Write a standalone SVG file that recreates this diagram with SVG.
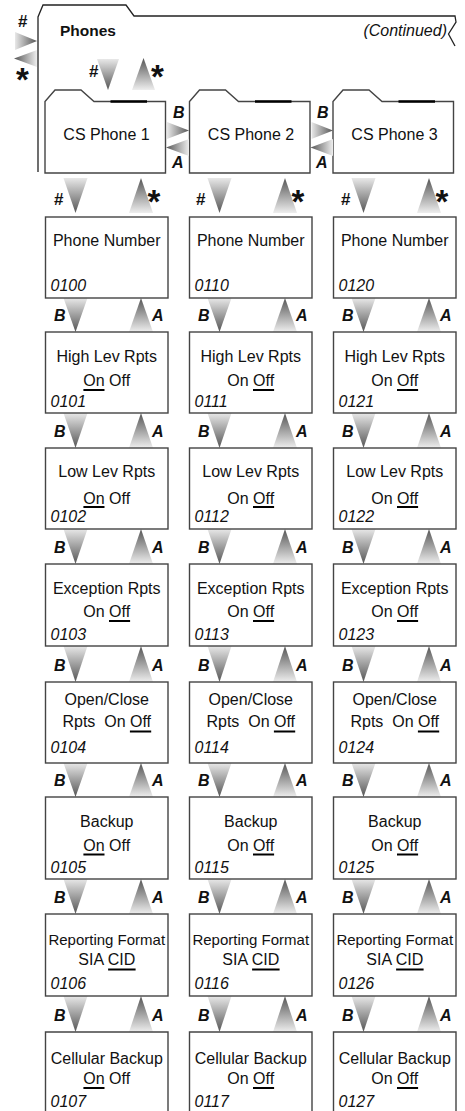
<svg xmlns="http://www.w3.org/2000/svg" width="465" height="1111" viewBox="0 0 465 1111">
<style>
.bx{fill:#fff;stroke:#444;stroke-width:1.4}
.fd{fill:none;stroke:#222;stroke-width:1.3}
.tab{stroke:#000;stroke-width:2.5}
.t{font-family:"Liberation Sans",Arial,sans-serif;font-size:16px;fill:#111;text-anchor:middle}
.id{font-family:"Liberation Sans",Arial,sans-serif;font-size:16px;fill:#111;font-style:italic}
.lb{font-family:"Liberation Sans",Arial,sans-serif;font-size:16px;font-weight:bold;font-style:italic;fill:#111}
.hs{font-family:"Liberation Sans",Arial,sans-serif;font-size:17px;font-weight:bold;fill:#111}
.st{font-family:"Liberation Sans",Arial,sans-serif;font-size:33px;font-weight:bold;fill:#111;text-anchor:middle}
.ul{stroke:#000;stroke-width:2}
.d{fill:url(#gd)}.u{fill:url(#gu)}.r{fill:url(#gr)}.l{fill:url(#gl)}
</style>
<defs>
<linearGradient id="gd" x1="0" y1="0" x2="0" y2="1"><stop offset="0" stop-color="#e8e8e8"/><stop offset="1" stop-color="#555"/></linearGradient>
<linearGradient id="gu" x1="0" y1="1" x2="0" y2="0"><stop offset="0" stop-color="#eee"/><stop offset="1" stop-color="#555"/></linearGradient>
<linearGradient id="gr" x1="0" y1="0" x2="1" y2="0"><stop offset="0" stop-color="#e8e8e8"/><stop offset="1" stop-color="#555"/></linearGradient>
<linearGradient id="gl" x1="1" y1="0" x2="0" y2="0"><stop offset="0" stop-color="#eee"/><stop offset="1" stop-color="#555"/></linearGradient>
</defs>
<rect width="465" height="1111" fill="#fff"/>

<g id="phones">
<path class="fd" d="M38,172 V17 L43,5 H126 L134,16 H455 L456,22 L448.5,34 L455,46"/>
<text class="hs" x="60" y="36" style="font-size:15.5px">Phones</text>
<text class="id" x="447" y="36" text-anchor="end">(Continued)</text>
</g>

<g id="cs1">
<path class="bx" d="M45,173 V101.5 L55,90 H81 L94,101.5 H165.5 V173 Z"/>
<path class="tab" d="M110.5,101.5 H147"/>
<text class="t" x="106.5" y="140">CS Phone 1</text>
</g>
<g id="cs2">
<path class="bx" d="M189.5,173 V101.5 L199.5,90 H225.5 L238.5,101.5 H310 V173 Z"/>
<path class="tab" d="M255,101.5 H291.5"/>
<text class="t" x="251" y="140">CS Phone 2</text>
</g>
<g id="cs3">
<path class="bx" d="M333,173 V101.5 L343,90 H369 L382,101.5 H453.5 V173 Z"/>
<path class="tab" d="M398.5,101.5 H435"/>
<text class="t" x="394.5" y="140">CS Phone 3</text>
</g>

<g id="connectors">
<text class="hs" x="18" y="27">#</text>
<polygon class="r" points="15,32 15,50 37,41"/>
<polygon class="l" points="37,50 37,67 14,58.5"/>
<text class="st" x="22.5" y="91">*</text>
<text class="hs" x="89" y="77">#</text>
<polygon class="d" points="97,59 119,59 108,90"/>
<polygon class="u" points="132,90 155,90 143.5,58"/>
<text class="st" x="157.5" y="88">*</text>
<text class="lb" x="173" y="118">B</text>
<polygon class="r" points="167,122 167,139 189,130.5"/>
<polygon class="l" points="189,139 189,156 166,147.5"/>
<text class="lb" x="172" y="168">A</text>
<text class="lb" x="317" y="118">B</text>
<polygon class="r" points="311.5,122 311.5,139 333,130.5"/>
<polygon class="l" points="333,139 333,156 310.5,147.5"/>
<text class="lb" x="316" y="168">A</text>
<text class="hs" x="54" y="205">#</text>
<polygon class="d" points="63.5,178 87.5,178 75.5,213"/>
<polygon class="u" points="129,213 153,213 141,178"/>
<text class="st" x="154" y="213">*</text>
<text class="hs" x="196" y="205">#</text>
<polygon class="d" points="207.5,178 231.5,178 219.5,213"/>
<polygon class="u" points="273,213 297,213 285,178"/>
<text class="st" x="298" y="213">*</text>
<text class="hs" x="341" y="205">#</text>
<polygon class="d" points="351.5,178 375.5,178 363.5,213"/>
<polygon class="u" points="417,213 441,213 429,178"/>
<text class="st" x="442" y="213">*</text>
<polygon class="d" points="63.5,298 87.5,298 75.5,332"/><polygon class="u" points="129,332 153,332 141,298"/>
<polygon class="d" points="207.5,298 231.5,298 219.5,332"/><polygon class="u" points="273,332 297,332 285,298"/>
<polygon class="d" points="351.5,298 375.5,298 363.5,332"/><polygon class="u" points="417,332 441,332 429,298"/>
<text class="lb" x="54" y="320.5">B</text><text class="lb" x="152" y="320.5">A</text>
<text class="lb" x="198" y="320.5">B</text><text class="lb" x="296" y="320.5">A</text>
<text class="lb" x="342" y="320.5">B</text><text class="lb" x="440" y="320.5">A</text>
<polygon class="d" points="63.5,413 87.5,413 75.5,448"/><polygon class="u" points="129,448 153,448 141,413"/>
<polygon class="d" points="207.5,413 231.5,413 219.5,448"/><polygon class="u" points="273,448 297,448 285,413"/>
<polygon class="d" points="351.5,413 375.5,413 363.5,448"/><polygon class="u" points="417,448 441,448 429,413"/>
<text class="lb" x="54" y="436.5">B</text><text class="lb" x="152" y="436.5">A</text>
<text class="lb" x="198" y="436.5">B</text><text class="lb" x="296" y="436.5">A</text>
<text class="lb" x="342" y="436.5">B</text><text class="lb" x="440" y="436.5">A</text>
<polygon class="d" points="63.5,529 87.5,529 75.5,564"/><polygon class="u" points="129,564 153,564 141,529"/>
<polygon class="d" points="207.5,529 231.5,529 219.5,564"/><polygon class="u" points="273,564 297,564 285,529"/>
<polygon class="d" points="351.5,529 375.5,529 363.5,564"/><polygon class="u" points="417,564 441,564 429,529"/>
<text class="lb" x="54" y="552.5">B</text><text class="lb" x="152" y="552.5">A</text>
<text class="lb" x="198" y="552.5">B</text><text class="lb" x="296" y="552.5">A</text>
<text class="lb" x="342" y="552.5">B</text><text class="lb" x="440" y="552.5">A</text>
<polygon class="d" points="63.5,646 87.5,646 75.5,682"/><polygon class="u" points="129,682 153,682 141,646"/>
<polygon class="d" points="207.5,646 231.5,646 219.5,682"/><polygon class="u" points="273,682 297,682 285,646"/>
<polygon class="d" points="351.5,646 375.5,646 363.5,682"/><polygon class="u" points="417,682 441,682 429,646"/>
<text class="lb" x="54" y="670.5">B</text><text class="lb" x="152" y="670.5">A</text>
<text class="lb" x="198" y="670.5">B</text><text class="lb" x="296" y="670.5">A</text>
<text class="lb" x="342" y="670.5">B</text><text class="lb" x="440" y="670.5">A</text>
<polygon class="d" points="63.5,763 87.5,763 75.5,797"/><polygon class="u" points="129,797 153,797 141,763"/>
<polygon class="d" points="207.5,763 231.5,763 219.5,797"/><polygon class="u" points="273,797 297,797 285,763"/>
<polygon class="d" points="351.5,763 375.5,763 363.5,797"/><polygon class="u" points="417,797 441,797 429,763"/>
<text class="lb" x="54" y="785.5">B</text><text class="lb" x="152" y="785.5">A</text>
<text class="lb" x="198" y="785.5">B</text><text class="lb" x="296" y="785.5">A</text>
<text class="lb" x="342" y="785.5">B</text><text class="lb" x="440" y="785.5">A</text>
<polygon class="d" points="63.5,879 87.5,879 75.5,914"/><polygon class="u" points="129,914 153,914 141,879"/>
<polygon class="d" points="207.5,879 231.5,879 219.5,914"/><polygon class="u" points="273,914 297,914 285,879"/>
<polygon class="d" points="351.5,879 375.5,879 363.5,914"/><polygon class="u" points="417,914 441,914 429,879"/>
<text class="lb" x="54" y="902.5">B</text><text class="lb" x="152" y="902.5">A</text>
<text class="lb" x="198" y="902.5">B</text><text class="lb" x="296" y="902.5">A</text>
<text class="lb" x="342" y="902.5">B</text><text class="lb" x="440" y="902.5">A</text>
<polygon class="d" points="63.5,996 87.5,996 75.5,1032"/><polygon class="u" points="129,1032 153,1032 141,996"/>
<polygon class="d" points="207.5,996 231.5,996 219.5,1032"/><polygon class="u" points="273,1032 297,1032 285,996"/>
<polygon class="d" points="351.5,996 375.5,996 363.5,1032"/><polygon class="u" points="417,1032 441,1032 429,996"/>
<text class="lb" x="54" y="1020.5">B</text><text class="lb" x="152" y="1020.5">A</text>
<text class="lb" x="198" y="1020.5">B</text><text class="lb" x="296" y="1020.5">A</text>
<text class="lb" x="342" y="1020.5">B</text><text class="lb" x="440" y="1020.5">A</text>
</g>

<g id="n0100"><rect class="bx" x="45.5" y="217" width="122.5" height="81"/><text class="t" x="106.75" y="246">Phone Number</text><text class="id" x="50.5" y="291">0100</text></g>
<g id="n0110"><rect class="bx" x="189.5" y="217" width="122.5" height="81"/><text class="t" x="250.75" y="246">Phone Number</text><text class="id" x="194.5" y="291">0110</text></g>
<g id="n0120"><rect class="bx" x="333.5" y="217" width="122.5" height="81"/><text class="t" x="394.75" y="246">Phone Number</text><text class="id" x="338.5" y="291">0120</text></g>

<g id="n0101"><rect class="bx" x="45.5" y="332" width="122.5" height="81"/><text class="t" x="106.75" y="362">High Lev Rpts</text><text class="t" x="106.75" y="386">On Off</text><path class="ul" d="M83.4,390 H104.5"/><text class="id" x="50.5" y="407">0101</text></g>
<g id="n0111"><rect class="bx" x="189.5" y="332" width="122.5" height="81"/><text class="t" x="250.75" y="362">High Lev Rpts</text><text class="t" x="250.75" y="386">On Off</text><path class="ul" d="M253,390 H274.1"/><text class="id" x="194.5" y="407">0111</text></g>
<g id="n0121"><rect class="bx" x="333.5" y="332" width="122.5" height="81"/><text class="t" x="394.75" y="362">High Lev Rpts</text><text class="t" x="394.75" y="386">On Off</text><path class="ul" d="M397,390 H418.1"/><text class="id" x="338.5" y="407">0121</text></g>

<g id="n0102"><rect class="bx" x="45.5" y="448" width="122.5" height="81"/><text class="t" x="106.75" y="477">Low Lev Rpts</text><text class="t" x="106.75" y="503.5">On Off</text><path class="ul" d="M83.4,507 H104.5"/><text class="id" x="50.5" y="522">0102</text></g>
<g id="n0112"><rect class="bx" x="189.5" y="448" width="122.5" height="81"/><text class="t" x="250.75" y="477">Low Lev Rpts</text><text class="t" x="250.75" y="503.5">On Off</text><path class="ul" d="M253,507 H274.1"/><text class="id" x="194.5" y="522">0112</text></g>
<g id="n0122"><rect class="bx" x="333.5" y="448" width="122.5" height="81"/><text class="t" x="394.75" y="477">Low Lev Rpts</text><text class="t" x="394.75" y="503.5">On Off</text><path class="ul" d="M397,507 H418.1"/><text class="id" x="338.5" y="522">0122</text></g>

<g id="n0103"><rect class="bx" x="45.5" y="564" width="122.5" height="82"/><text class="t" x="106.75" y="594">Exception Rpts</text><text class="t" x="106.75" y="617">On Off</text><path class="ul" d="M109,621 H130.1"/><text class="id" x="50.5" y="639.5">0103</text></g>
<g id="n0113"><rect class="bx" x="189.5" y="564" width="122.5" height="82"/><text class="t" x="250.75" y="594">Exception Rpts</text><text class="t" x="250.75" y="617">On Off</text><path class="ul" d="M253,621 H274.1"/><text class="id" x="194.5" y="639.5">0113</text></g>
<g id="n0123"><rect class="bx" x="333.5" y="564" width="122.5" height="82"/><text class="t" x="394.75" y="594">Exception Rpts</text><text class="t" x="394.75" y="617">On Off</text><path class="ul" d="M397,621 H418.1"/><text class="id" x="338.5" y="639.5">0123</text></g>

<g id="n0104"><rect class="bx" x="45.5" y="682" width="122.5" height="81"/><text class="t" x="106.75" y="705">Open/Close</text><text class="t" x="106.75" y="727" xml:space="preserve">Rpts  On Off</text><path class="ul" d="M129.9,731.5 H151.2"/><text class="id" x="50.5" y="753">0104</text></g>
<g id="n0114"><rect class="bx" x="189.5" y="682" width="122.5" height="81"/><text class="t" x="250.75" y="705">Open/Close</text><text class="t" x="250.75" y="727" xml:space="preserve">Rpts  On Off</text><path class="ul" d="M273.9,731.5 H295.2"/><text class="id" x="194.5" y="753">0114</text></g>
<g id="n0124"><rect class="bx" x="333.5" y="682" width="122.5" height="81"/><text class="t" x="394.75" y="705">Open/Close</text><text class="t" x="394.75" y="727" xml:space="preserve">Rpts  On Off</text><path class="ul" d="M417.9,731.5 H439.2"/><text class="id" x="338.5" y="753">0124</text></g>

<g id="n0105"><rect class="bx" x="45.5" y="797" width="122.5" height="82"/><text class="t" x="106.75" y="827">Backup</text><text class="t" x="106.75" y="850.5">On Off</text><path class="ul" d="M83.4,854.5 H104.5"/><text class="id" x="50.5" y="872.5">0105</text></g>
<g id="n0115"><rect class="bx" x="189.5" y="797" width="122.5" height="82"/><text class="t" x="250.75" y="827">Backup</text><text class="t" x="250.75" y="850.5">On Off</text><path class="ul" d="M253,854.5 H274.1"/><text class="id" x="194.5" y="872.5">0115</text></g>
<g id="n0125"><rect class="bx" x="333.5" y="797" width="122.5" height="82"/><text class="t" x="394.75" y="827">Backup</text><text class="t" x="394.75" y="850.5">On Off</text><path class="ul" d="M397,854.5 H418.1"/><text class="id" x="338.5" y="872.5">0125</text></g>

<g id="n0106"><rect class="bx" x="45.5" y="914" width="122.5" height="82"/><text class="t" x="106.75" y="945" style="font-size:15px">Reporting Format</text><text class="t" x="106.75" y="965">SIA CID</text><path class="ul" d="M108.1,969.5 H135.6"/><text class="id" x="50.5" y="989">0106</text></g>
<g id="n0116"><rect class="bx" x="189.5" y="914" width="122.5" height="82"/><text class="t" x="250.75" y="945" style="font-size:15px">Reporting Format</text><text class="t" x="250.75" y="965">SIA CID</text><path class="ul" d="M252.1,969.5 H279.6"/><text class="id" x="194.5" y="989">0116</text></g>
<g id="n0126"><rect class="bx" x="333.5" y="914" width="122.5" height="82"/><text class="t" x="394.75" y="945" style="font-size:15px">Reporting Format</text><text class="t" x="394.75" y="965">SIA CID</text><path class="ul" d="M396.1,969.5 H423.6"/><text class="id" x="338.5" y="989">0126</text></g>

<g id="n0107"><path class="bx" d="M45.5,1112 V1032 H168 V1112"/><text class="t" x="106.75" y="1063.5">Cellular Backup</text><text class="t" x="106.75" y="1084">On Off</text><path class="ul" d="M83.4,1088 H104.5"/><text class="id" x="50.5" y="1107">0107</text></g>
<g id="n0117"><path class="bx" d="M189.5,1112 V1032 H312 V1112"/><text class="t" x="250.75" y="1063.5">Cellular Backup</text><text class="t" x="250.75" y="1084">On Off</text><path class="ul" d="M253,1088 H274.1"/><text class="id" x="194.5" y="1107">0117</text></g>
<g id="n0127"><path class="bx" d="M333.5,1112 V1032 H456 V1112"/><text class="t" x="394.75" y="1063.5">Cellular Backup</text><text class="t" x="394.75" y="1084">On Off</text><path class="ul" d="M397,1088 H418.1"/><text class="id" x="338.5" y="1107">0127</text></g>
</svg>
